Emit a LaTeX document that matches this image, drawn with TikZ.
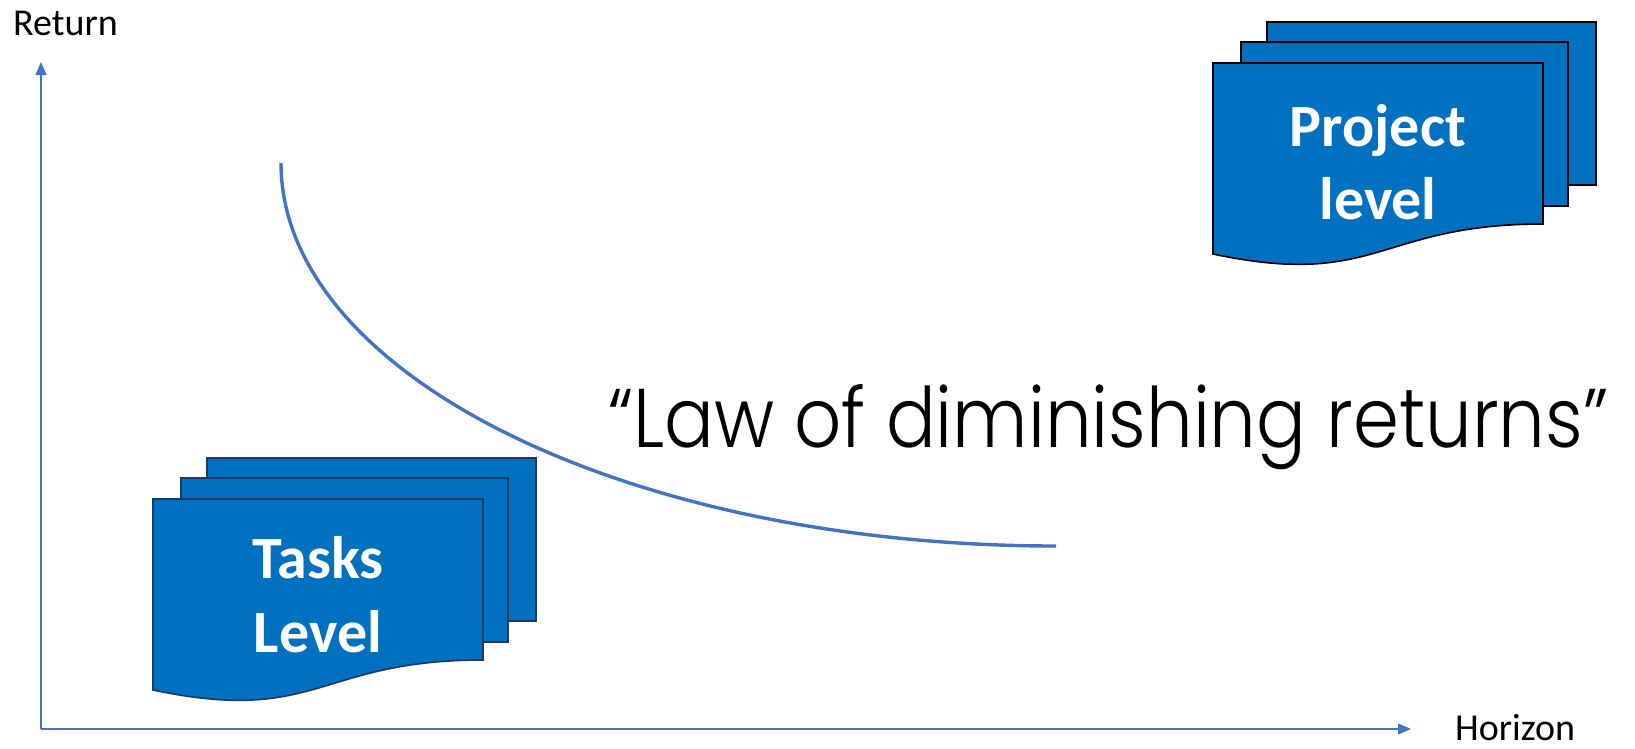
\documentclass[tikz,border=0pt]{standalone}
\usepackage{graphicx}
\usepackage{fontspec}
\setmainfont{Carlito}
\newfontfamily\lawfont{Poppins Light}
\usetikzlibrary{arrows.meta}
\definecolor{axisblue}{HTML}{4472C4}
\definecolor{docblue}{HTML}{0070C0}
\definecolor{taskedge}{HTML}{1F3864}
\tikzset{
 axisline/.style={draw=axisblue, line width=1.3pt, -{Triangle[length=13pt,width=11pt]}},
 curveline/.style={draw=axisblue, line width=3.4pt},
 docshape/.style={fill=docblue, line width=1.6pt, line join=miter},
 doclabel/.style={text=white, font=\fontsize{60}{73}\selectfont\bfseries, inner sep=0pt, anchor=base},
 axislabel/.style={font=\fontsize{38}{46}\selectfont, inner sep=0pt, anchor=base west},
}
\newcommand\docstack[3]{%
 \begin{scope}[shift={(#1,#2)}]
  \path[docshape, draw=#3] (54,-41) rectangle (383,122);
  \path[docshape, draw=#3] (28,-21) rectangle (355,143);
  \path[docshape, draw=#3] (0,0) -- (330,0) -- (330,161) .. controls (165,161) and (165,226) .. (0,191) -- cycle;
 \end{scope}}
\begin{document}
\begin{tikzpicture}[x=1pt,y=-1pt]
\path[use as bounding box] (0,0) rectangle (1635,748);
% axes
\coordinate (O) at (41,729);
\coordinate (ytip) at (41,62);
\coordinate (xtip) at (1411,729);
\draw[axisline] (O) -- (ytip);
\draw[axisline] (O) -- (xtip);
\node[axislabel] (ret) at (13,35) {Return};
\node[axislabel] (hor) at (1455,740) {Horizon};
% curve
\coordinate (c0) at (281,163);
\coordinate (c1) at (1056,546);
\draw[curveline] (c0) .. controls (281,375) and (628,546) .. (c1);
% document stacks
\docstack{153}{499}{taskedge}
\docstack{1213}{63}{black}
\node[doclabel] (tasks1) at (318,578) {Tasks};
\node[doclabel] (tasks2) at (318,652) {Level};
\node[doclabel] (proj1) at (1378,146) {Project};
\node[doclabel] (proj2) at (1378,219) {level};
% law text
\node[anchor=base west, inner sep=0pt] (law) at (608,447) {\resizebox{1000pt}{63pt}{\lawfont “Law of diminishing returns”}};
\end{tikzpicture}
\end{document}
